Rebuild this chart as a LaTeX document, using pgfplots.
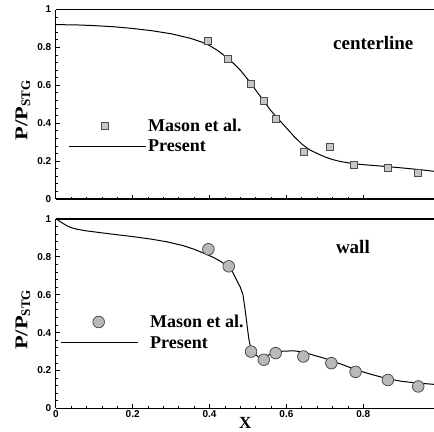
\documentclass[border=0pt]{standalone}
\usepackage{fontspec}
\setmainfont{Liberation Serif}
\newfontfamily\tickfont{Liberation Sans}
\usepackage{pgfplots}
\pgfplotsset{compat=1.18}

\pgfplotsset{
 myax/.style={
  scale only axis, width=378.3pt, height=189.5pt,
  xmin=0, xmax=0.984, ymin=0, ymax=1,
  axis x line=box, axis y line=left,
  axis line style={-, line width=1.1pt},
  xtick={0,0.2,0.4,0.6,0.8}, ytick={0,0.2,0.4,0.6,0.8,1},
  minor x tick num=4, minor y tick num=4,
  tick align=inside, xtick pos=bottom, ytick pos=left,
  major tick length=4pt, minor tick length=2pt,
  tick style={black, line width=0.8pt},
  /pgf/number format/assume math mode=true,
  xticklabel={\tickfont\bfseries\fontsize{10}{12}\selectfont\pgfmathprintnumber{\tick}},
  yticklabel={\tickfont\bfseries\fontsize{10}{12}\selectfont\pgfmathprintnumber{\tick}},
  yticklabel style={xshift=-1pt},
  xticklabel style={yshift=1.5pt},
  ylabel={\fontsize{18}{18}\selectfont\bfseries\scalebox{1.25}[1]{P/P}\textsubscript{\fontsize{13}{13}\selectfont\bfseries STG}},
  ylabel style={at={(axis description cs:-0.087,0.468)}, anchor=center, inner sep=0pt},
  legend style={draw=none, fill=none, inner sep=0pt, nodes={inner sep=0pt},
    font=\fontsize{18}{18}\selectfont\bfseries, legend cell align=left},
  reverse legend,
 },
 curve/.style={black, line width=1pt, no marks,
   legend image code/.code={\draw[##1, mark=none] (0pt,0pt) -- (77pt,0pt);}},
 sqleg/.style={legend image code/.code={\draw[mark repeat=2,mark phase=2,##1] plot coordinates {(0pt,0pt)(36pt,0pt)(77pt,0pt)};}},
 cileg/.style={legend image code/.code={\draw[mark repeat=2,mark phase=2,##1] plot coordinates {(0pt,0pt)(38pt,0pt)(77pt,0pt)};}},
}

\begin{document}
\begin{tikzpicture}
% ---------- centerline ----------
\begin{axis}[myax, at={(0pt,0pt)}, anchor=north west,
  xticklabels={},
  legend style={at={(axis cs:0.0317,0.4246)}, anchor=north west, row sep=7pt,
    /tikz/every odd column/.append style={column sep=2pt}}]
\addplot[curve] coordinates {
(0,0.920)(0.05,0.919)(0.1,0.915)(0.15,0.909)(0.2,0.900)(0.25,0.888)(0.3,0.872)
(0.35,0.848)(0.38,0.828)(0.4,0.81)(0.42,0.785)(0.45,0.74)(0.48,0.68)(0.5,0.63)
(0.52,0.575)(0.54,0.52)(0.56,0.465)(0.58,0.42)(0.6,0.375)(0.62,0.33)(0.64,0.29)
(0.66,0.26)(0.68,0.24)(0.70,0.222)(0.72,0.208)(0.74,0.198)(0.76,0.191)(0.78,0.185)
(0.8,0.181)(0.85,0.173)(0.9,0.164)(0.95,0.154)(0.984,0.146)};
\addlegendentry{Present}
\addplot[only marks, mark=square*, mark size=3.5pt,
  mark options={fill=gray!45, draw=gray!60!black, line width=0.5pt}, sqleg]
 coordinates {
(0.395,0.835)(0.448,0.742)(0.507,0.609)(0.540,0.521)(0.573,0.424)
(0.644,0.248)(0.713,0.274)(0.776,0.178)(0.864,0.163)(0.942,0.139)};
\addlegendentry{Mason et al.}
\node[font=\fontsize{19}{19}\selectfont\bfseries, inner sep=0pt] at (axis cs:0.826,0.821) {centerline};
\end{axis}
% ---------- wall ----------
\begin{axis}[myax, at={(0pt,-209.5pt)}, anchor=north west,
  xlabel={\fontsize{17}{17}\selectfont\bfseries X},
  xlabel style={at={(axis description cs:0.501,-0.078)}, anchor=center, inner sep=0pt},
  legend style={at={(axis cs:0.0109,0.494)}, anchor=north west, row sep=7.25pt,
    /tikz/every odd column/.append style={column sep=12pt}}]
\addplot[curve] coordinates {
(0,1.0)(0.005,0.995)(0.01,0.988)(0.02,0.975)(0.03,0.963)(0.04,0.954)(0.055,0.946)
(0.08,0.937)(0.115,0.928)(0.15,0.919)(0.2,0.907)(0.25,0.893)(0.29,0.879)(0.33,0.86)
(0.36,0.84)(0.39,0.815)(0.41,0.797)(0.43,0.775)(0.45,0.745)(0.46,0.72)(0.47,0.68)
(0.48,0.64)(0.487,0.6)(0.492,0.53)(0.497,0.45)(0.502,0.37)(0.507,0.32)(0.513,0.295)
(0.52,0.282)(0.528,0.272)(0.54,0.272)(0.555,0.283)(0.572,0.296)(0.59,0.302)(0.62,0.304)
(0.645,0.297)(0.672,0.28)(0.7,0.264)(0.717,0.252)(0.75,0.228)(0.78,0.205)(0.82,0.18)
(0.862,0.157)(0.9,0.143)(0.94,0.134)(0.984,0.127)};
\addlegendentry{Present}
\addplot[only marks, mark=*, mark size=5.8pt,
  mark options={fill=gray!55, draw=black!70, line width=0.8pt}, cileg]
 coordinates {
(0.397,0.84)(0.450,0.75)(0.508,0.30)(0.541,0.257)(0.572,0.292)
(0.644,0.274)(0.717,0.239)(0.780,0.193)(0.864,0.150)(0.943,0.116)};
\addlegendentry{Mason et al.}
\node[font=\fontsize{19}{19}\selectfont\bfseries, inner sep=0pt] at (axis cs:0.773,0.852) {wall};
\end{axis}
\pgfresetboundingbox
\path[use as bounding box] (-55.8pt,9.5pt) rectangle (378.3pt,-422.5pt);
\end{tikzpicture}
\end{document}
